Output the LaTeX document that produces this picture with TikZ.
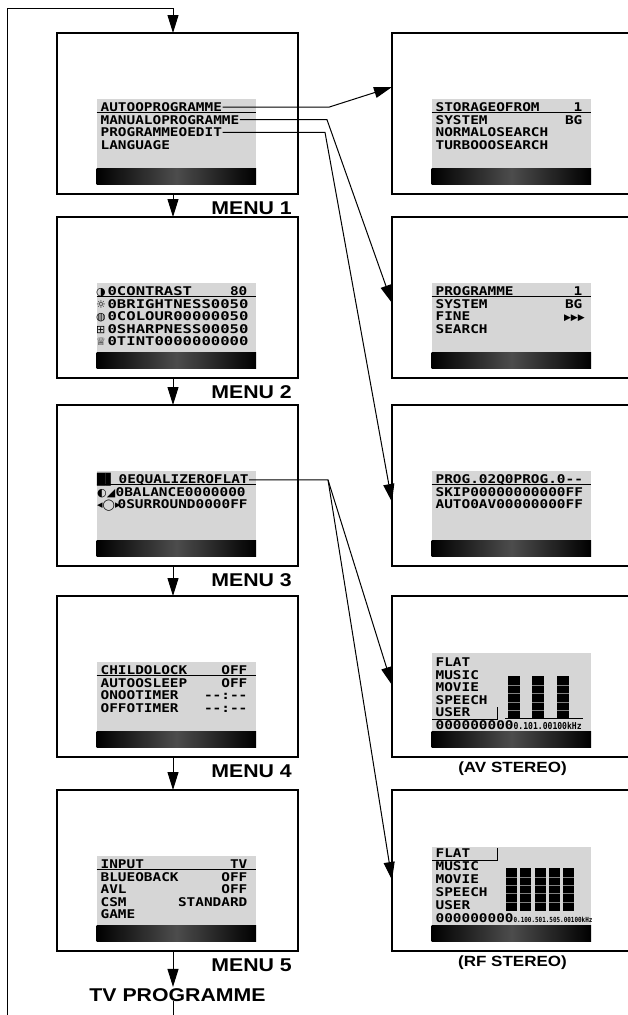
\documentclass[tikz,border=0pt]{standalone}
\usepackage{fontspec}
\usetikzlibrary{arrows.meta}
\newfontfamily\lcdfont[FakeStretch=1.2]{DejaVu Sans Mono}
\newfontfamily\lcdwidefont[FakeStretch=1.3]{DejaVu Sans Mono}
\newfontfamily\lcdtinyfont[FakeStretch=0.85]{DejaVu Sans Mono}
\newfontfamily\iconfont{DejaVu Sans}
\newfontfamily\labelfont[FakeStretch=1.15]{Liberation Sans}
\definecolor{lcdgrey}{gray}{0.84}
\tikzset{
  menubox/.style={draw, line width=1.1pt, minimum width=241pt, minimum height=161pt, inner sep=0pt, outer sep=0pt},
  lcd/.style={font=\lcdfont\bfseries\fontsize{12}{12}\selectfont, inner sep=0.4pt, anchor=base west},
  lcdwide/.style={lcd, font=\lcdwidefont\bfseries\fontsize{12}{12}\selectfont},
  lcdvalue/.style={lcd, anchor=base east},
  icon/.style={font=\iconfont\fontsize{11}{11}\selectfont, inner sep=0pt, anchor=base west},
  menulabel/.style={font=\labelfont\bfseries\fontsize{18.5}{18.5}\selectfont, inner sep=1pt},
  stereolabel/.style={font=\labelfont\bfseries\fontsize{14.8}{14.8}\selectfont, inner sep=1pt},
  flow/.style={line width=1pt, -{Triangle[length=18pt,width=11pt]}},
  eqbar/.style={fill=black},
  eqline/.style={draw=black!50, line width=0.6pt},
}
\begin{document}
\begin{tikzpicture}[x=1pt,y=-1pt]
\useasboundingbox (0,0) rectangle (627,1015);
\coordinate (spine) at (173,0);
\coordinate (loop) at (7,8);
\coordinate (j1) at (329,0);
\coordinate (j2) at (327,0);
\coordinate (j3) at (325,0);
\coordinate (j4) at (328,0);

% frames
\foreach \n/\y in {1/113.5,2/297.5,3/485.5,4/676.5,5/870.5}{
  \node[menubox] (m\n) at (177.5,\y) {};
  \node[menubox] (r\n) at (512.5,\y) {};
}

% screens
\foreach \b in {m1,m2,m3,m4,m5,r1,r2,r3}{
  \fill[lcdgrey] ([shift={(39.5,66)}]\b.north west) rectangle ([shift={(199,135)}]\b.north west);
  \draw[line width=0.8pt] ([shift={(39.5,79.8)}]\b.north west) -- ++(159.5,0);
}
\foreach \b in {r4,r5}
  \fill[lcdgrey] ([shift={(39.5,57)}]\b.north west) rectangle ([shift={(199,135)}]\b.north west);
\foreach \b in {m1,m2,m3,m4,m5,r1,r2,r3,r4,r5}
  \shade[left color=black, right color=black, middle color=black!70] ([shift={(39.5,135)}]\b.north west) rectangle ([shift={(199,151.5)}]\b.north west);

% menu 1
\foreach \txt [count=\i from 0] in {AUTOOPROGRAMME,MANUALOPROGRAMME,PROGRAMMEOEDIT,LANGUAGE}
  \node[lcd] (m1-\i) at ([shift={(43,78.5+12.6*\i)}]m1.north west) {\txt};

% menu 2
\foreach \ic/\txt [count=\i from 0] in {◑/0CONTRAST,☼/0BRIGHTNESS0050,◍/0COLOUR00000050,⊞/0SHARPNESS00050,♕/0TINT0000000000}{
  \node[icon] at ([shift={(39,78.5+12.6*\i)}]m2.north west) {\ic};
  \node[lcdwide] (m2-\i) at ([shift={(50,78.5+12.6*\i)}]m2.north west) {\txt};
}
\node[lcdvalue] at ([shift={(191,78.5)}]m2.north west) {80};

% menu 3
\foreach \ic/\txt/\dx [count=\i from 0] in {█▋/0EQUALIZEROFLAT/61,◐◢/0BALANCE0000000/58,◂◯▸/0SURROUND0000FF/60}{
  \node[icon] at ([shift={(40,78.5+12.6*\i)}]m3.north west) {\ic};
  \node[lcd] (m3-\i) at ([shift={(\dx,78.5+12.6*\i)}]m3.north west) {\txt};
}

% menu 4
\foreach \txt/\val [count=\i from 0] in {CHILDOLOCK/OFF,AUTOOSLEEP/OFF,ONOOTIMER/-{}-:-{}-,OFFOTIMER/-{}-:-{}-}{
  \node[lcd] (m4-\i) at ([shift={(43,78.5+12.6*\i)}]m4.north west) {\txt};
  \node[lcdvalue] at ([shift={(191,78.5+12.6*\i)}]m4.north west) {\val};
}

% menu 5
\foreach \txt/\val [count=\i from 0] in {INPUT/TV,BLUEOBACK/OFF,AVL/OFF,CSM/STANDARD,GAME/{}}{
  \node[lcd] (m5-\i) at ([shift={(43,78.5+12.6*\i)}]m5.north west) {\txt};
  \node[lcdvalue] at ([shift={(191,78.5+12.6*\i)}]m5.north west) {\val};
}

% auto programme
\foreach \txt/\val [count=\i from 0] in {STORAGEOFROM/1,SYSTEM/BG,NORMALOSEARCH/{},TURBOOOSEARCH/{}}{
  \node[lcd] (r1-\i) at ([shift={(43,78.5+12.6*\i)}]r1.north west) {\txt};
  \node[lcdvalue] at ([shift={(191,78.5+12.6*\i)}]r1.north west) {\val};
}

% manual programme
\foreach \txt/\val [count=\i from 0] in {PROGRAMME/1,SYSTEM/BG,FINE/{},SEARCH/{}}{
  \node[lcd] (r2-\i) at ([shift={(43,78.5+12.6*\i)}]r2.north west) {\txt};
  \node[lcdvalue] at ([shift={(191,78.5+12.6*\i)}]r2.north west) {\val};
}
\node[icon, font=\iconfont\fontsize{9}{9}\selectfont, anchor=base east] at ([shift={(193,78.5+12.6*2)}]r2.north west) {▶▶▶};

% programme edit
\foreach \txt [count=\i from 0] in {PROG.02Q0PROG.0-{}-,SKIP00000000000FF,AUTO0AV00000000FF}
  \node[lcd] (r3-\i) at ([shift={(43,78.5+12.6*\i)}]r3.north west) {\txt};

% equalizer, av stereo
\foreach \txt [count=\i from 0] in {FLAT,MUSIC,MOVIE,SPEECH,USER}
  \node[lcd] (r4-\i) at ([shift={(43,70.5+12.6*\i)}]r4.north west) {\txt};
\node[lcd] (r4-hz) at ([shift={(43,133.5)}]r4.north west) {000000000{\lcdtinyfont\fontsize{9.5}{9.5}\selectfont 0.101.00100kHz}};
\draw[line width=0.8pt] ([shift={(40,123)}]r4.north west) -| ++(65,-12);
\draw[line width=0.8pt] ([shift={(113,122)}]r4.north west) -- ++(78,0);
\foreach \x in {116,140,165}{
  \fill[eqbar] ([shift={(\x,80)}]r4.north west) rectangle ++(12,42);
  \foreach \y in {89,97,106,114}
    \draw[eqline] ([shift={(\x,\y)}]r4.north west) -- ++(12,0);
}

% equalizer, rf stereo
\foreach \txt [count=\i from 0] in {FLAT,MUSIC,MOVIE,SPEECH,USER}
  \node[lcd] (r5-\i) at ([shift={(43,67.5+13.1*\i)}]r5.north west) {\txt};
\node[lcd] (r5-hz) at ([shift={(43,132)}]r5.north west) {000000000{\lcdtinyfont\fontsize{7}{7}\selectfont 0.100.501.505.00100kHz}};
\draw[line width=0.8pt] ([shift={(40,70)}]r5.north west) -| ++(65,-12);
\foreach \x in {114,128,143,157,171}{
  \fill[eqbar] ([shift={(\x,78)}]r5.north west) rectangle ++(11,43);
  \foreach \y in {87,95,103,112}
    \draw[eqline] ([shift={(\x,\y)}]r5.north west) -- ++(11,0);
}

% labels
\foreach \n in {1,...,5}
  \node[menulabel, anchor=base east] at ([shift={(-5,20)}]m\n.south east) {MENU \n};
\node[stereolabel, anchor=north] at ([yshift=-4pt]r4.south) {(AV STEREO)};
\node[stereolabel, anchor=north] at ([yshift=-4pt]r5.south) {(RF STEREO)};
\node[menulabel, anchor=base] (tv) at ([yshift=-50pt]m5.south) {TV PROGRAMME};

% sub menus
\draw[flow] (m1-0.east) -- (m1-0.east -| j1) -- ([yshift=26.5pt]r1.west);
\draw[flow] (m1-1.east) -- (m1-1.east -| j2) -- ([yshift=-5.5pt]r2.west);
\draw[flow] (m1-2.east) -- (m1-2.east -| j3) -- ([yshift=-16.5pt]r3.west);
\draw[flow] (m3-0.east) -- (m3-0.east -| j4) -- ([yshift=-8.5pt]r4.west);
\draw[flow] (m3-0.east -| j4) -- ([yshift=-9.5pt]r5.west);

% menu order
\foreach \a/\b in {m1/m2,m2/m3,m3/m4,m4/m5}
  \draw[flow] (\a.south -| spine) -- (\b.north -| spine);
\draw[flow] (m5.south -| spine) -- (tv.north -| spine);
\draw[flow] (tv.base -| spine) -- ++(0,22) -| (loop) -| (m1.north -| spine);
\end{tikzpicture}
\end{document}
